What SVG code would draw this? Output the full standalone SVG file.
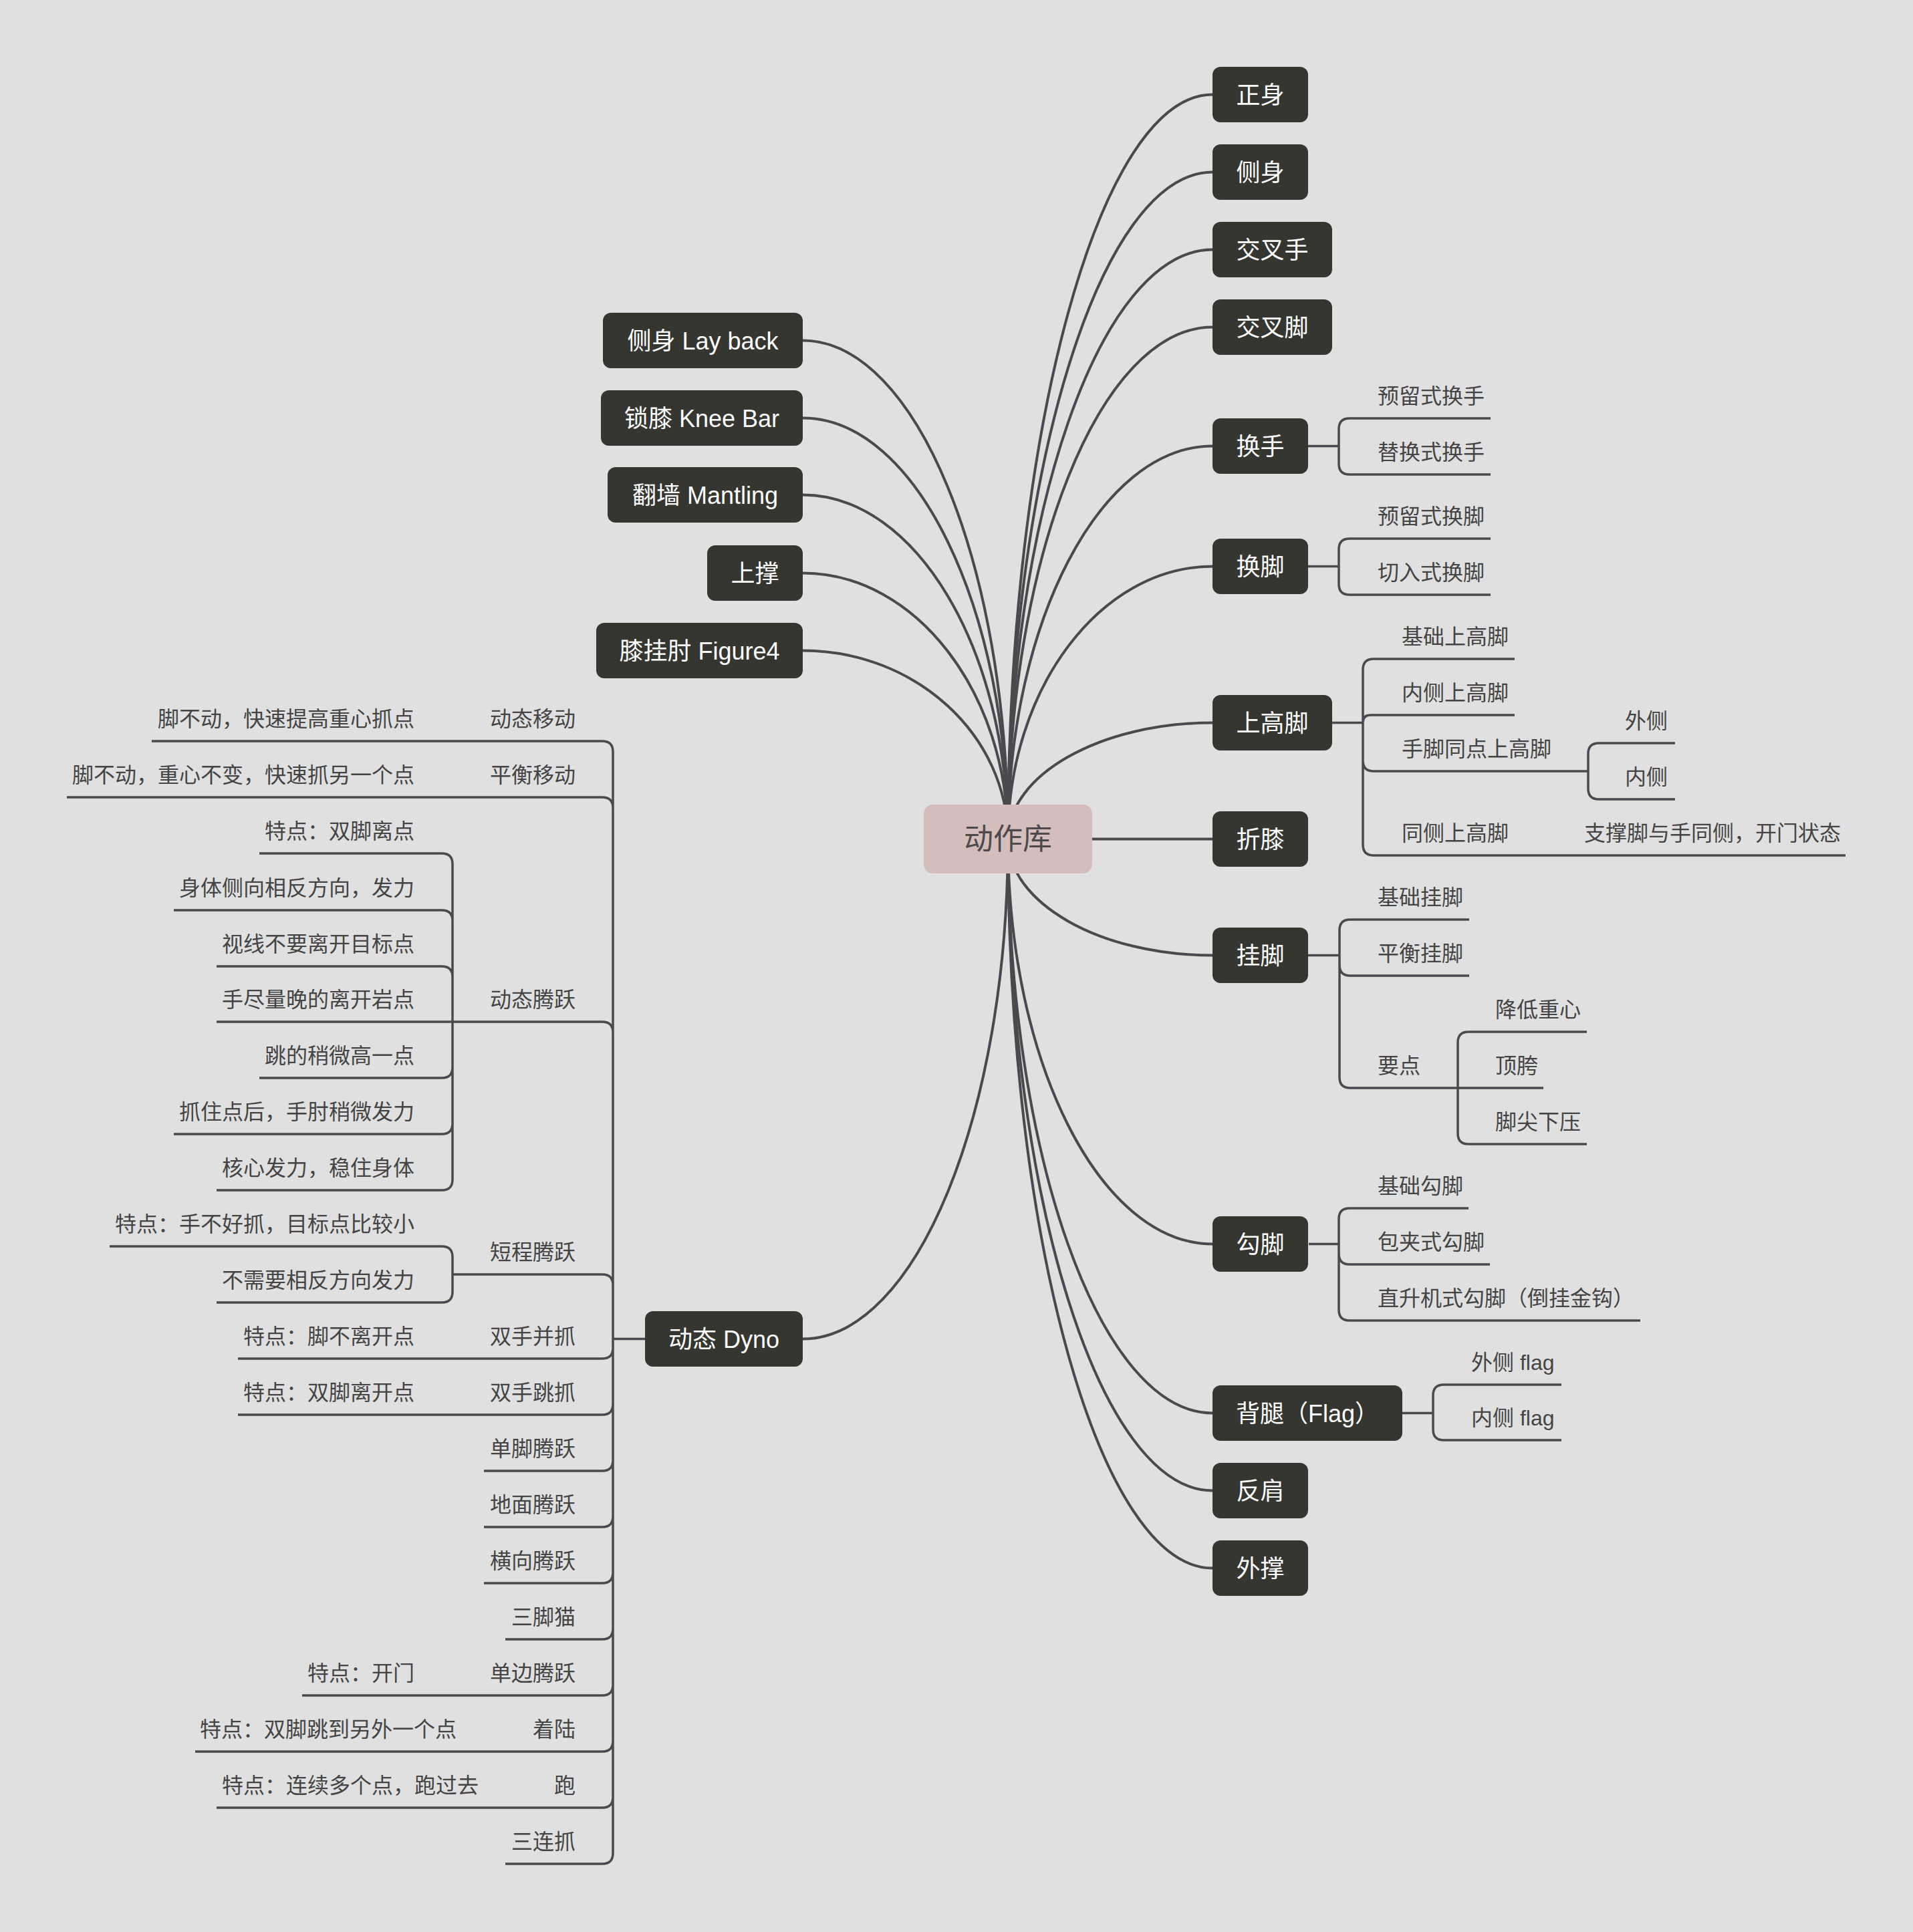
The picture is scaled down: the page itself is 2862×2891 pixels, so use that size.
<svg xmlns="http://www.w3.org/2000/svg" width="2862" height="2891" viewBox="0 0 2862 2891">
<style>
text{font-family:'Liberation Sans','Noto Sans CJK SC',sans-serif}
.bg{fill:#e0e0e0}
.main{fill:none;stroke:#4a494e;stroke-width:4}
.br{fill:none;stroke:#4a494e;stroke-width:3.5}
.box{fill:#363631}
.bt{fill:#ffffff;font-size:36px;text-anchor:middle}
.root{fill:#d4bebb}
.rt{fill:#4d4a4c;font-size:44px;text-anchor:middle}
.s{fill:#444444;font-size:32px}
.e{fill:#444444;font-size:32px;text-anchor:end}
</style>
<rect class="bg" x="0" y="0" width="2862" height="2891"/>
<g id="connectors">
<path class="main" d="M1508,1255.5 C1508,642.8 1645.7,141.5 1814,141.5"/>
<path class="main" d="M1508,1255.5 C1508,706.6 1645.7,257.5 1814,257.5"/>
<path class="main" d="M1508,1255.5 C1508,770.4 1645.7,373.5 1814,373.5"/>
<path class="main" d="M1508,1255.5 C1508,834.2 1645.7,489.5 1814,489.5"/>
<path class="main" d="M1508,1255.5 C1508,932.1 1645.7,667.5 1814,667.5"/>
<path class="main" d="M1508,1255.5 C1508,1031.1 1645.7,847.5 1814,847.5"/>
<path class="main" d="M1508,1255.5 C1508,1159.8 1645.7,1081.5 1814,1081.5"/>
<path class="main" d="M1508,1255.5 L1814,1255.5"/>
<path class="main" d="M1508,1255.5 C1508,1351.2 1645.7,1429.5 1814,1429.5"/>
<path class="main" d="M1508,1255.5 C1508,1588.8 1645.7,1861.5 1814,1861.5"/>
<path class="main" d="M1508,1255.5 C1508,1728 1645.7,2114.5 1814,2114.5"/>
<path class="main" d="M1508,1255.5 C1508,1791.8 1645.7,2230.5 1814,2230.5"/>
<path class="main" d="M1508,1255.5 C1508,1855.5 1645.7,2346.5 1814,2346.5"/>
<path class="main" d="M1508,1255.5 C1508,845.2 1370,509.5 1201,509.5"/>
<path class="main" d="M1508,1255.5 C1508,909 1370,625.5 1201,625.5"/>
<path class="main" d="M1508,1255.5 C1508,972.2 1370,740.5 1201,740.5"/>
<path class="main" d="M1508,1255.5 C1508,1036.6 1370,857.5 1201,857.5"/>
<path class="main" d="M1508,1255.5 C1508,1100.4 1370,973.5 1201,973.5"/>
<path class="main" d="M1508,1255.5 C1508,1666.9 1370,2003.5 1201,2003.5"/>
<path class="br" d="M1957,667.5 H2003 V642 Q2003,626 2019,626 H2230 M2003,667.5 V694 Q2003,710 2019,710 H2230"/>
<path class="br" d="M1957,847.5 H2003 V822 Q2003,806 2019,806 H2230 M2003,847.5 V874 Q2003,890 2019,890 H2230"/>
<path class="br" d="M1993,1081.5 H2039 V1002 Q2039,986 2055,986 H2266 M2039,1081.5 Q2039,1070 2050.5,1070 H2266 M2039,1081.5 V1138 Q2039,1154 2055,1154 H2376 M2039,1081.5 V1264 Q2039,1280 2055,1280 H2761"/>
<path class="br" d="M2376,1154 V1128 Q2376,1112 2392,1112 H2506 M2376,1154 V1180 Q2376,1196 2392,1196 H2506"/>
<path class="br" d="M1957,1429.5 H2004 V1392 Q2004,1376 2020,1376 H2198 M2004,1429.5 V1444 Q2004,1460 2020,1460 H2198 M2004,1429.5 V1612 Q2004,1628 2020,1628 H2309"/>
<path class="br" d="M2181,1628 V1560 Q2181,1544 2197,1544 H2374 M2181,1628 V1696 Q2181,1712 2197,1712 H2374"/>
<path class="br" d="M1958,1861.5 H2003 V1824 Q2003,1808 2019,1808 H2197 M2003,1861.5 V1876 Q2003,1892 2019,1892 H2229 M2003,1861.5 V1960 Q2003,1976 2019,1976 H2454"/>
<path class="br" d="M2098,2114.5 H2144 V2088 Q2144,2072 2160,2072 H2336 M2144,2114.5 V2139 Q2144,2155 2160,2155 H2336"/>
<path class="br" d="M965,2003.5 H917 V1125 Q917,1109 901,1109 H227 M917,2003.5 V1209 Q917,1193 901,1193 H100 M917,2003.5 V1545 Q917,1529 901,1529 H677 M917,2003.5 V1923 Q917,1907 901,1907 H677 M917,2003.5 V2017 Q917,2033 901,2033 H356 M917,2003.5 V2101 Q917,2117 901,2117 H356 M917,2003.5 V2185 Q917,2201 901,2201 H724 M917,2003.5 V2269 Q917,2285 901,2285 H724 M917,2003.5 V2353 Q917,2369 901,2369 H724 M917,2003.5 V2437 Q917,2453 901,2453 H756 M917,2003.5 V2521 Q917,2537 901,2537 H452 M917,2003.5 V2605 Q917,2621 901,2621 H292 M917,2003.5 V2689 Q917,2705 901,2705 H324 M917,2003.5 V2773 Q917,2789 901,2789 H756"/>
<path class="br" d="M677,1529 V1293 Q677,1277 661,1277 H388 M677,1529 V1378 Q677,1362 661,1362 H260 M677,1529 V1462 Q677,1446 661,1446 H324 M677,1529 H324 M677,1529 V1597 Q677,1613 661,1613 H388 M677,1529 V1681 Q677,1697 661,1697 H260 M677,1529 V1765 Q677,1781 661,1781 H324"/>
<path class="br" d="M677,1907 V1881 Q677,1865 661,1865 H164 M677,1907 V1933 Q677,1949 661,1949 H324"/>
</g>
<g id="root"><rect class="root" x="1382" y="1204" width="252" height="103" rx="14"/><text class="rt" x="1508" y="1271">动作库</text></g>
<g id="n-zhengshen"><rect class="box" x="1814" y="100" width="143" height="83" rx="12"/><text class="bt" x="1885.5" y="155">正身</text></g>
<g id="n-ceshen"><rect class="box" x="1814" y="216" width="143" height="83" rx="12"/><text class="bt" x="1885.5" y="271">侧身</text></g>
<g id="n-jiaochashou"><rect class="box" x="1814" y="332" width="179" height="83" rx="12"/><text class="bt" x="1903.5" y="387">交叉手</text></g>
<g id="n-jiaochajiao"><rect class="box" x="1814" y="448" width="179" height="83" rx="12"/><text class="bt" x="1903.5" y="503">交叉脚</text></g>
<g id="n-huanshou"><rect class="box" x="1814" y="626" width="143" height="83" rx="12"/><text class="bt" x="1885.5" y="681">换手</text></g>
<g id="n-huanjiao"><rect class="box" x="1814" y="806" width="143" height="83" rx="12"/><text class="bt" x="1885.5" y="861">换脚</text></g>
<g id="n-shanggaojiao"><rect class="box" x="1814" y="1040" width="179" height="83" rx="12"/><text class="bt" x="1903.5" y="1095">上高脚</text></g>
<g id="n-zhexi"><rect class="box" x="1814" y="1214" width="143" height="83" rx="12"/><text class="bt" x="1885.5" y="1269">折膝</text></g>
<g id="n-guajiao"><rect class="box" x="1814" y="1388" width="143" height="83" rx="12"/><text class="bt" x="1885.5" y="1443">挂脚</text></g>
<g id="n-goujiao"><rect class="box" x="1814" y="1820" width="143" height="83" rx="12"/><text class="bt" x="1885.5" y="1875">勾脚</text></g>
<g id="n-flag"><rect class="box" x="1814" y="2073" width="284" height="83" rx="12"/><text class="bt" x="1956" y="2128">背腿（Flag）</text></g>
<g id="n-fanjian"><rect class="box" x="1814" y="2189" width="143" height="83" rx="12"/><text class="bt" x="1885.5" y="2244">反肩</text></g>
<g id="n-waicheng"><rect class="box" x="1814" y="2305" width="143" height="83" rx="12"/><text class="bt" x="1885.5" y="2360">外撑</text></g>
<g id="n-layback"><rect class="box" x="902" y="468" width="299" height="83" rx="12"/><text class="bt" x="1051.5" y="523">侧身 Lay back</text></g>
<g id="n-kneebar"><rect class="box" x="899" y="584" width="302" height="83" rx="12"/><text class="bt" x="1050" y="639">锁膝 Knee Bar</text></g>
<g id="n-mantling"><rect class="box" x="909" y="699" width="292" height="83" rx="12"/><text class="bt" x="1055" y="754">翻墙 Mantling</text></g>
<g id="n-shangcheng"><rect class="box" x="1058" y="816" width="143" height="83" rx="12"/><text class="bt" x="1129.5" y="871">上撑</text></g>
<g id="n-figure4"><rect class="box" x="892" y="932" width="309" height="83" rx="12"/><text class="bt" x="1046.5" y="987">膝挂肘 Figure4</text></g>
<g id="n-dyno"><rect class="box" x="965" y="1962" width="236" height="83" rx="12"/><text class="bt" x="1083" y="2017">动态 Dyno</text></g>
<g id="sub-right">
<text class="s" x="2061" y="604">预留式换手</text>
<text class="s" x="2061" y="688">替换式换手</text>
<text class="s" x="2061" y="784">预留式换脚</text>
<text class="s" x="2061" y="868">切入式换脚</text>
<text class="s" x="2097" y="964">基础上高脚</text>
<text class="s" x="2097" y="1048">内侧上高脚</text>
<text class="s" x="2097" y="1132">手脚同点上高脚</text>
<text class="s" x="2097" y="1258">同侧上高脚</text>
<text class="s" x="2370" y="1258">支撑脚与手同侧，开门状态</text>
<text class="s" x="2431" y="1090">外侧</text>
<text class="s" x="2431" y="1174">内侧</text>
<text class="s" x="2061" y="1354">基础挂脚</text>
<text class="s" x="2061" y="1438">平衡挂脚</text>
<text class="s" x="2061" y="1606">要点</text>
<text class="s" x="2237" y="1522">降低重心</text>
<text class="s" x="2237" y="1606">顶胯</text>
<text class="s" x="2237" y="1690">脚尖下压</text>
<text class="s" x="2061" y="1786">基础勾脚</text>
<text class="s" x="2061" y="1870">包夹式勾脚</text>
<text class="s" x="2061" y="1954">直升机式勾脚（倒挂金钩）</text>
<text class="s" x="2201" y="2050">外侧 flag</text>
<text class="s" x="2201" y="2133">内侧 flag</text>
</g>
<g id="sub-left">
<text class="e" x="861" y="1087">动态移动</text>
<text class="e" x="861" y="1171">平衡移动</text>
<text class="e" x="861" y="1507">动态腾跃</text>
<text class="e" x="861" y="1885">短程腾跃</text>
<text class="e" x="861" y="2011">双手并抓</text>
<text class="e" x="861" y="2095">双手跳抓</text>
<text class="e" x="861" y="2179">单脚腾跃</text>
<text class="e" x="861" y="2263">地面腾跃</text>
<text class="e" x="861" y="2347">横向腾跃</text>
<text class="e" x="861" y="2431">三脚猫</text>
<text class="e" x="861" y="2515">单边腾跃</text>
<text class="e" x="861" y="2599">着陆</text>
<text class="e" x="861" y="2683">跑</text>
<text class="e" x="861" y="2767">三连抓</text>
<text class="e" x="620" y="1087">脚不动，快速提高重心抓点</text>
<text class="e" x="620" y="1171">脚不动，重心不变，快速抓另一个点</text>
<text class="e" x="620" y="1255">特点：双脚离点</text>
<text class="e" x="620" y="1340">身体侧向相反方向，发力</text>
<text class="e" x="620" y="1424">视线不要离开目标点</text>
<text class="e" x="620" y="1507">手尽量晚的离开岩点</text>
<text class="e" x="620" y="1591">跳的稍微高一点</text>
<text class="e" x="620" y="1675">抓住点后，手肘稍微发力</text>
<text class="e" x="620" y="1759">核心发力，稳住身体</text>
<text class="e" x="620" y="1843">特点：手不好抓，目标点比较小</text>
<text class="e" x="620" y="1927">不需要相反方向发力</text>
<text class="e" x="620" y="2011">特点：脚不离开点</text>
<text class="e" x="620" y="2095">特点：双脚离开点</text>
<text class="e" x="620" y="2515">特点：开门</text>
<text class="e" x="683" y="2599">特点：双脚跳到另外一个点</text>
<text class="e" x="716" y="2683">特点：连续多个点，跑过去</text>
</g>
</svg>
